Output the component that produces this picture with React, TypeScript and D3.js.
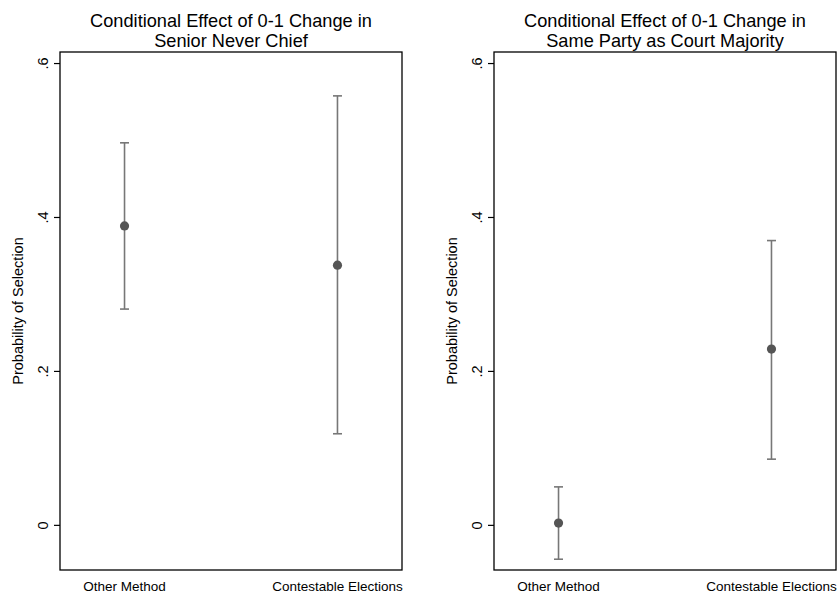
import React from "react";
import * as d3 from "d3";

const categories = ["Other Method", "Contestable Elections"];
const yTicks = [0, 0.2, 0.4, 0.6];
const yTickLabels = ["0", ".2", ".4", ".6"];
const yDomain: [number, number] = [-0.058, 0.615];

const leftTitle = ["Conditional Effect of 0-1 Change in", "Senior Never Chief"];
const seniorEstimate = [0.389, 0.338];
const seniorLower = [0.281, 0.119];
const seniorUpper = [0.497, 0.558];

const rightTitle = ["Conditional Effect of 0-1 Change in", "Same Party as Court Majority"];
const partyEstimate = [0.003, 0.229];
const partyLower = [-0.044, 0.086];
const partyUpper = [0.05, 0.37];

const yLabel = "Probability of Selection";

const W = 839;
const H = 592;
const TOP = 52;
const BOTTOM = 570;
const FONT = "'Liberation Sans', Arial, Helvetica, sans-serif";

type PanelProps = {
  x0: number;
  x1: number;
  title: string[];
  est: number[];
  lo: number[];
  hi: number[];
};

function Panel({ x0, x1, title, est, lo, hi }: PanelProps) {
  const y = d3.scaleLinear().domain(yDomain).range([BOTTOM, TOP]);
  const x = d3.scalePoint<string>().domain(categories).range([x0, x1]).padding(0.303);
  const cx = (x0 + x1) / 2;
  const cap = 4.5;
  return (
    <g>
      {title.map((t, i) => (
        <text key={i} x={cx} y={26.6 + i * 20.2} textAnchor="middle" fontSize={18.2} fontFamily={FONT} fill="#000">
          {t}
        </text>
      ))}
      <rect x={x0} y={TOP} width={x1 - x0} height={BOTTOM - TOP} fill="none" stroke="#000" strokeWidth={1.3} />
      {yTicks.map((t, i) => (
        <g key={i}>
          <line x1={x0 - 6} x2={x0} y1={y(t)} y2={y(t)} stroke="#000" strokeWidth={1.2} />
          <text
            transform={`translate(${x0 - 12.5},${y(t)}) rotate(-90)`}
            textAnchor="middle"
            fontSize={14.5}
            fontFamily={FONT}
            fill="#000"
          >
            {yTickLabels[i]}
          </text>
        </g>
      ))}
      <text
        transform={`translate(${x0 - 37},${(TOP + BOTTOM) / 2}) rotate(-90)`}
        textAnchor="middle"
        fontSize={14.5}
        fontFamily={FONT}
        fill="#000"
      >
        {yLabel}
      </text>
      {categories.map((c) => (
        <text key={c} x={x(c)} y={590.5} textAnchor="middle" fontSize={13.5} fontFamily={FONT} fill="#000">
          {c}
        </text>
      ))}
      {categories.map((c, i) => {
        const px = x(c) as number;
        return (
          <g key={c}>
            <line x1={px} x2={px} y1={y(lo[i])} y2={y(hi[i])} stroke="#777" strokeWidth={1.6} />
            <line x1={px - cap} x2={px + cap} y1={y(lo[i])} y2={y(lo[i])} stroke="#777" strokeWidth={1.6} />
            <line x1={px - cap} x2={px + cap} y1={y(hi[i])} y2={y(hi[i])} stroke="#777" strokeWidth={1.6} />
            <circle cx={px} cy={y(est[i])} r={4.6} fill="#555" />
          </g>
        );
      })}
    </g>
  );
}

export default function App() {
  return (
    <div style={{ position: "absolute", left: 0, top: 0 }}>
      <svg width={W} height={H} style={{ display: "block", background: "#fff" }}>
        <rect width={W} height={H} fill="#fff" />
        <Panel x0={60} x1={402} title={leftTitle} est={seniorEstimate} lo={seniorLower} hi={seniorUpper} />
        <Panel x0={494} x1={836} title={rightTitle} est={partyEstimate} lo={partyLower} hi={partyUpper} />
      </svg>
    </div>
  );
}
